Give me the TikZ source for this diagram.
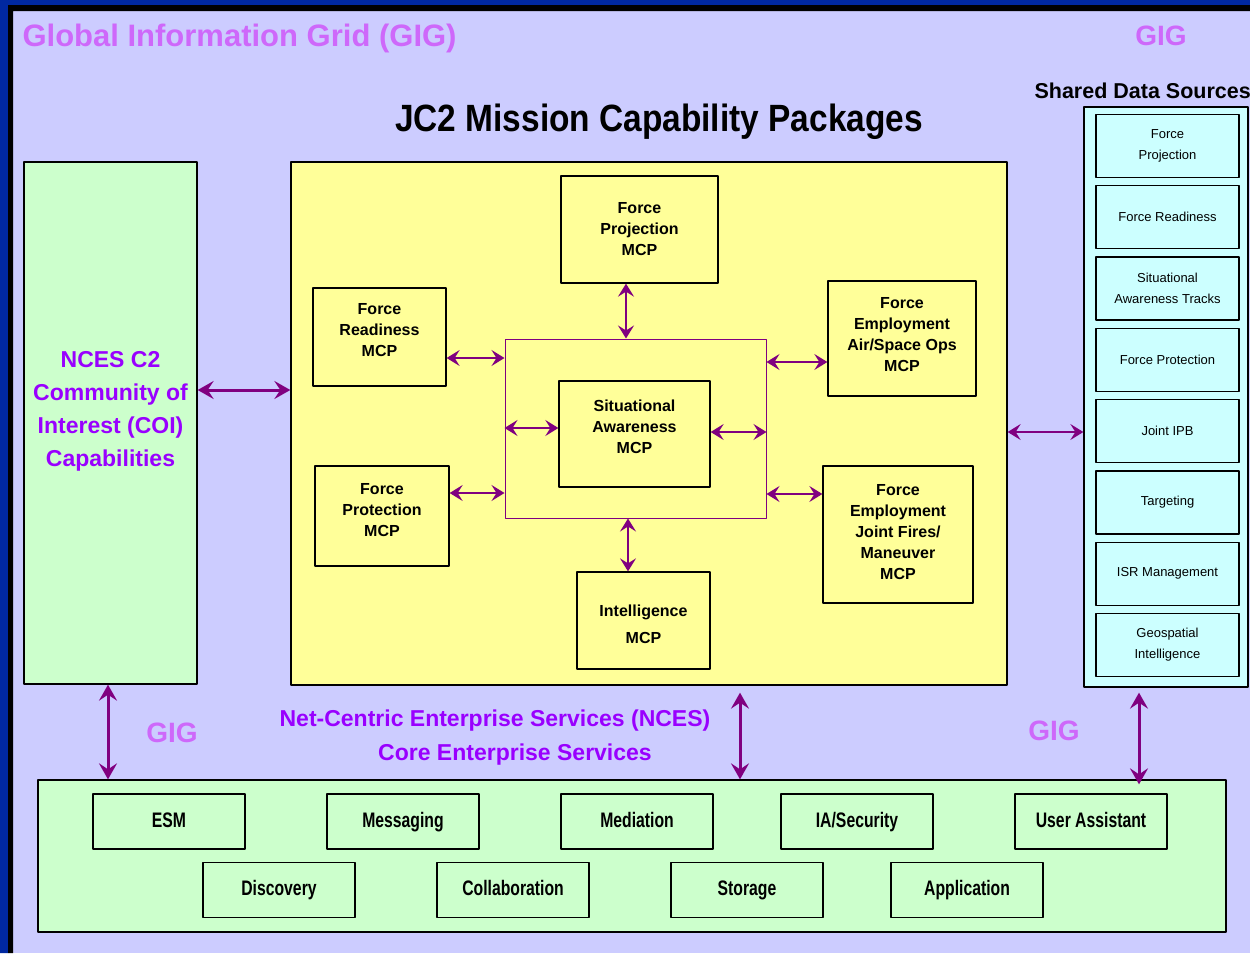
\documentclass[tikz,border=0pt]{standalone}
\usepackage{fontspec}
\setmainfont{Liberation Sans}
\newfontfamily\narrowsans{Liberation Sans}[FakeStretch=0.75]
\newfontfamily\titlesans{Liberation Sans}[FakeStretch=0.88]
\usetikzlibrary{arrows.meta}
\definecolor{lavender}{RGB}{204,204,255}
\definecolor{edgeblue}{RGB}{0,40,160}
\definecolor{gigpink}{RGB}{206,104,250}
\definecolor{ncespurple}{RGB}{153,0,255}
\definecolor{linkpurple}{RGB}{128,0,128}
\definecolor{cesgreen}{RGB}{204,255,204}
\definecolor{mcpyellow}{RGB}{255,255,153}
\definecolor{srccyan}{RGB}{204,255,255}
\begin{document}
\begin{tikzpicture}[x=1pt,y=-1pt, line join=round, font=\bfseries,
  headsmall/.tip={Stealth[length=13pt,width=16pt,inset=5pt]},
  headbig/.tip={Stealth[length=16pt,width=18pt,inset=6pt]},
  box/.style={draw, line width=1.3pt, inner sep=0pt, align=center},
  mcp/.style={box, fill=mcpyellow, font=\bfseries\fontsize{16}{21}\selectfont},
  src/.style={box, fill=srccyan, minimum width=143pt, minimum height=63pt, font=\fontsize{13}{21}\selectfont},
  core/.style={box, fill=cesgreen, minimum width=152pt, minimum height=55pt, text height=15pt, text depth=4pt, font=\narrowsans\bfseries\fontsize{21}{24}\selectfont},
  gig/.style={text=gigpink, font=\bfseries\fontsize{28}{28}\selectfont},
  link/.style={headsmall-headsmall, draw=linkpurple, line width=1.5pt},
  biglink/.style={headbig-headbig, draw=linkpurple, line width=3pt}]
  \clip (0,0) rectangle (1250,953);
  \fill[lavender] (0,0) rectangle (1250,953);
  \fill[edgeblue] (0,0) rectangle (1250,5) (0,0) rectangle (8,953);
  \fill[black] (8,5) rectangle (1250,11) (8,5) rectangle (13,953);
  % titles
  \node[anchor=west, text=gigpink, font=\bfseries\fontsize{31}{31}\selectfont] (gigtitle) at (19,38) {Global Information Grid (GIG)};
  \node[gig] (gigtop) at (1161,36) {GIG};
  \node[anchor=west, font=\bfseries\fontsize{21.5}{22}\selectfont] (srctitle) at (1031,91) {Shared Data Sources};
  \node[font=\titlesans\bfseries\fontsize{38}{38}\selectfont] (jctitle) at (659,122) {JC2 Mission Capability Packages};
  % left COI box
  \node[box, fill=cesgreen, minimum width=173pt, minimum height=522pt, text depth=28pt, text=ncespurple, font=\bfseries\fontsize{23}{33}\selectfont] (coi) at (110.5,423) {NCES C2\\Community of\\Interest (COI)\\Capabilities};
  % mission capability packages
  \node[box, fill=mcpyellow, minimum width=716pt, minimum height=523pt] (mcpzone) at (649,423.5) {};
  \node[draw=linkpurple, line width=1pt, minimum width=261pt, minimum height=179pt, inner sep=0pt] (hub) at (635.5,428.5) {};
  \node[mcp, minimum width=157pt, minimum height=107pt] (proj) at (639.5,229.5) {Force\\Projection\\MCP};
  \node[mcp, minimum width=133pt, minimum height=98pt, text depth=14pt] (ready) at (379.5,337) {Force\\Readiness\\MCP};
  \node[mcp, minimum width=151pt, minimum height=106pt, text depth=14pt] (sa) at (634.5,434) {Situational\\Awareness\\MCP};
  \node[mcp, minimum width=148pt, minimum height=115pt, text depth=9pt] (feair) at (902,338.5) {Force\\Employment\\Air/Space Ops\\MCP};
  \node[mcp, minimum width=134pt, minimum height=100pt, text depth=12pt] (fprot) at (382,516) {Force\\Protection\\MCP};
  \node[mcp, minimum width=150pt, minimum height=137pt, text depth=6pt] (fejf) at (898,534.5) {Force\\Employment\\Joint Fires/\\Maneuver\\MCP};
  \node[mcp, minimum width=133pt, minimum height=97pt, text height=47pt] (intel) at (643.5,620.5) {Intelligence\\[6pt]MCP};
  % shared data sources
  \node[box, fill=srccyan, minimum width=164pt, minimum height=580pt] (shared) at (1166,397) {};
  \foreach \txt [count=\i] in {Force\\Projection, Force Readiness, Situational\\Awareness Tracks, Force Protection, Joint IPB, Targeting, ISR Management, Geospatial\\Intelligence}
    \node[src] (src\i) at (1167.5,{146+71.3*(\i-1)}) {\txt};
  % core enterprise services
  \node[gig] (gigleft) at (172,733) {GIG};
  \node[gig] (gigright) at (1054,731) {GIG};
  \node[text=ncespurple, font=\bfseries\fontsize{23}{23}\selectfont] (ncesa) at (495,721) {Net-Centric Enterprise Services (NCES)};
  \node[text=ncespurple, font=\bfseries\fontsize{23}{23}\selectfont] (ncesb) at (515,755) {Core Enterprise Services};
  \node[box, fill=cesgreen, minimum width=1188pt, minimum height=152pt] (ces) at (632,856) {};
  \foreach \x/\txt [count=\i] in {169/ESM, 403/Messaging, 637/Mediation, 857/{IA/Security}, 1091/User Assistant}
    \node[core] (coreup\i) at (\x,821.5) {\txt};
  \foreach \x/\txt [count=\i] in {279/Discovery, 513/Collaboration, 747/Storage, 967/Application}
    \node[core] (corelow\i) at (\x,890) {\txt};
  % links
  \draw[link, line width=2pt] (proj.south -| 626,0) -- (hub.north -| 626,0);
  \draw[link] (ready.east |- 0,358) -- (hub.west |- 0,358);
  \draw[link, line width=2pt] (hub.west |- 0,428) -- (sa.west |- 0,428);
  \draw[link] (sa.east |- 0,432) -- (hub.east |- 0,432);
  \draw[link] (hub.east |- 0,362) -- (feair.west |- 0,362);
  \draw[link] (fprot.east |- 0,493) -- (hub.west |- 0,493);
  \draw[link] (hub.east |- 0,494) -- (fejf.west |- 0,494);
  \draw[link] (hub.south -| 628,0) -- (intel.north -| 628,0);
  \draw[biglink] (coi.east |- 0,390) -- (mcpzone.west |- 0,390);
  \draw[link] (mcpzone.east |- 0,432) -- (shared.west |- 0,432);
  \draw[biglink] (coi.south -| 108,0) -- (ces.north -| 108,0);
  \draw[biglink, shorten <=7pt] (mcpzone.south -| 740,0) -- (ces.north -| 740,0);
  \draw[biglink, shorten <=5pt, shorten >=-5pt] (shared.south -| 1139,0) -- (ces.north -| 1139,0);
\end{tikzpicture}
\end{document}
